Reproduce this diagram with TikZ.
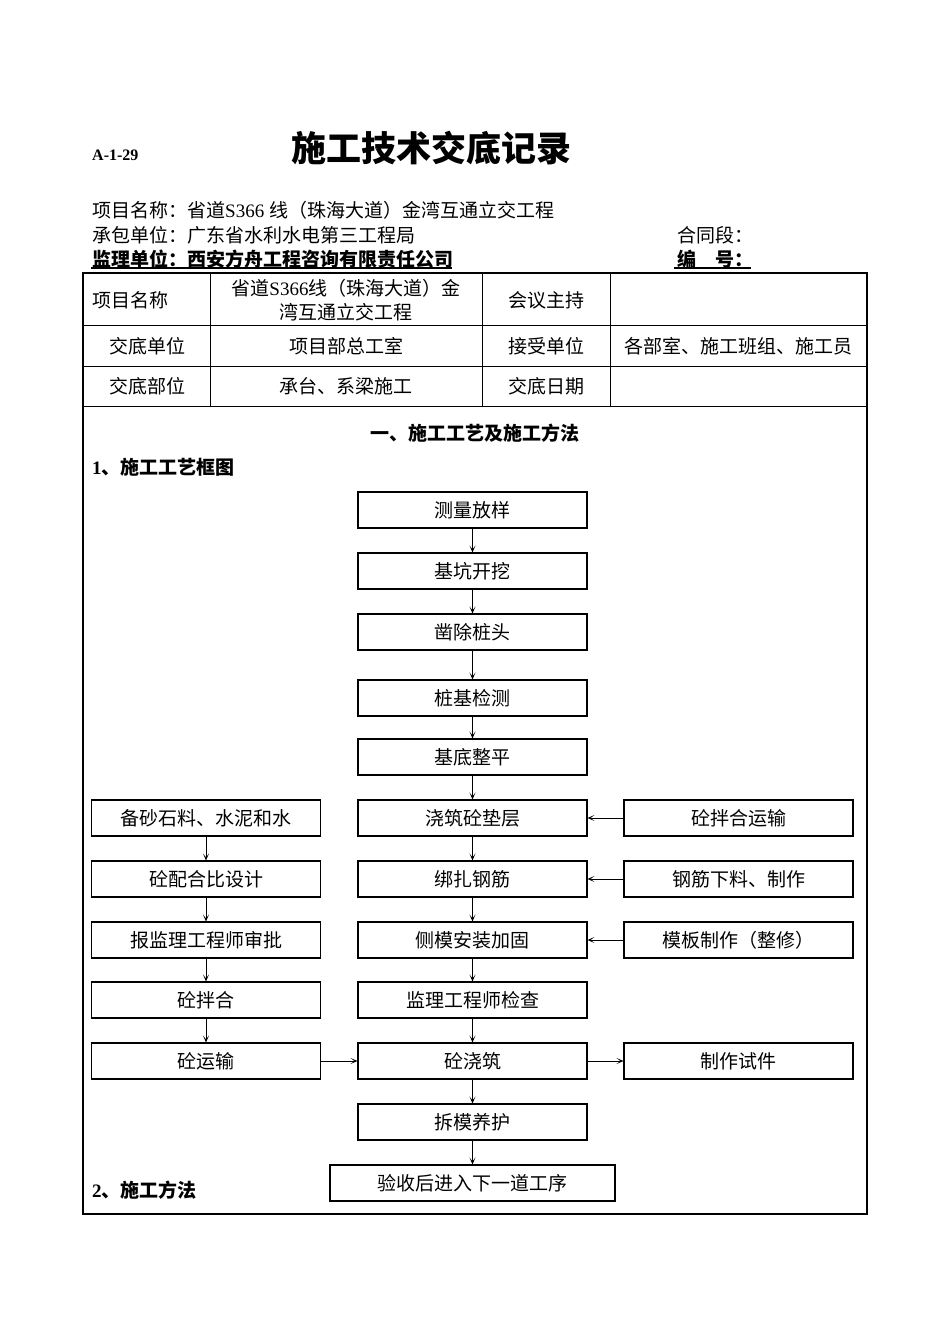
\documentclass[tikz,border=0pt]{standalone}
\usepackage{fontspec}
\setmainfont{Liberation Serif}
\newfontfamily\cjk{Noto Sans CJK SC}
\usetikzlibrary{arrows.meta}
\newcommand\latn[1]{{\rmfamily #1}}
\begin{document}
\begin{tikzpicture}[x=1pt,y=-1pt,
  txt/.style={inner sep=0pt, font=\cjk\fontsize{19pt}{24pt}\selectfont},
  btxt/.style={txt, font=\cjk\bfseries\fontsize{19pt}{24pt}\selectfont},
  bx/.style={draw, line width=1.1pt, minimum height=36pt, inner sep=0pt, font=\cjk\fontsize{19pt}{23pt}\selectfont},
  cbox/.style={bx, minimum width=229pt},
  wbox/.style={bx, minimum width=285pt},
  arr/.style={-{Stealth[length=7pt,width=6pt,inset=4pt]}, line width=0.8pt},
  grid/.style={line width=0.9pt},
  frame/.style={line width=1.8pt}
]
% page
\fill[white] (0,0) rectangle (950,1344);
\useasboundingbox (0,0) rectangle (950,1344);

% title block
\node[anchor=west, inner sep=0pt, font=\rmfamily\bfseries\fontsize{16pt}{18pt}\selectfont] (code) at (92,155) {A-1-29};
\node[inner sep=0pt, font=\cjk\bfseries\fontsize{35pt}{40pt}\selectfont] (title) at (431,148) {施工技术交底记录};

\node[txt, anchor=west] (h1) at (92,210) {项目名称：省道\latn{S366 }线（珠海大道）金湾互通立交工程};
\node[txt, anchor=west] (h2) at (92,235) {承包单位：广东省水利水电第三工程局};
\node[txt, anchor=west] (h2b) at (677,235) {合同段：};
\node[btxt, anchor=west] (h3) at (92,259) {监理单位：西安方舟工程咨询有限责任公司};
\node[btxt, anchor=west] (h3b) at (677,259) {编\hspace{1em}号：};
\draw[line width=1.2pt] (91,268) -- (452,268);
\draw[line width=1.2pt] (674,268) -- (751,268);

% table
\draw[grid] (83,325) -- (867,325);
\draw[grid] (83,366) -- (867,366);
\draw[grid] (83,406) -- (867,406);
\draw[grid] (210,273) -- (210,406);
\draw[grid] (482,273) -- (482,406);
\draw[grid] (610,273) -- (610,406);
\draw[frame] (83,273) rectangle (867,1214);

\node[txt, anchor=west] (t11) at (92,300) {项目名称};
\node[txt, align=center] (t12) at (346,300) {省道\latn{S366}线（珠海大道）金\\湾互通立交工程};
\node[txt] (t13) at (546,300) {会议主持};
\node[txt] (t21) at (147,346) {交底单位};
\node[txt] (t22) at (346,346) {项目部总工室};
\node[txt] (t23) at (546,346) {接受单位};
\node[txt] (t24) at (738,346) {各部室、施工班组、施工员};
\node[txt] (t31) at (147,386) {交底部位};
\node[txt] (t32) at (346,386) {承台、系梁施工};
\node[txt] (t33) at (546,386) {交底日期};

\node[btxt] (s1) at (475,433) {一、施工工艺及施工方法};
\node[btxt, anchor=west] (s2) at (92,467) {\latn{1}、施工工艺框图};
\node[btxt, anchor=west] (s3) at (92,1190) {\latn{2}、施工方法};

% flow chart - centre
\node[cbox] (c1) at (472.5,510) {测量放样};
\node[cbox] (c2) at (472.5,571) {基坑开挖};
\node[cbox] (c3) at (472.5,632) {凿除桩头};
\node[cbox] (c4) at (472.5,698) {桩基检测};
\node[cbox] (c5) at (472.5,757) {基底整平};
\node[cbox] (c6) at (472.5,818) {浇筑砼垫层};
\node[cbox] (c7) at (472.5,879) {绑扎钢筋};
\node[cbox] (c8) at (472.5,940) {侧模安装加固};
\node[cbox] (c9) at (472.5,1000) {监理工程师检查};
\node[cbox] (c10) at (472.5,1061) {砼浇筑};
\node[cbox] (c11) at (472.5,1122) {拆模养护};
\node[wbox] (c12) at (472.5,1183) {验收后进入下一道工序};

% left
\node[cbox] (l1) at (206,818) {备砂石料、水泥和水};
\node[cbox] (l2) at (206,879) {砼配合比设计};
\node[cbox] (l3) at (206,940) {报监理工程师审批};
\node[cbox] (l4) at (206,1000) {砼拌合};
\node[cbox] (l5) at (206,1061) {砼运输};

% right
\node[cbox] (r1) at (738.5,818) {砼拌合运输};
\node[cbox] (r2) at (738.5,879) {钢筋下料、制作};
\node[cbox] (r3) at (738.5,940) {模板制作（整修）};
\node[cbox] (r5) at (738.5,1061) {制作试件};

% arrows
\foreach \a/\b in {c1/c2,c2/c3,c3/c4,c4/c5,c5/c6,c6/c7,c7/c8,c8/c9,c9/c10,c10/c11,c11/c12,l1/l2,l2/l3,l3/l4,l4/l5}
  \draw[arr] (\a) -- (\b);
\draw[arr] (r1) -- (c6);
\draw[arr] (r2) -- (c7);
\draw[arr] (r3) -- (c8);
\draw[arr] (l5) -- (c10);
\draw[arr] (c10) -- (r5);
\end{tikzpicture}
\end{document}
